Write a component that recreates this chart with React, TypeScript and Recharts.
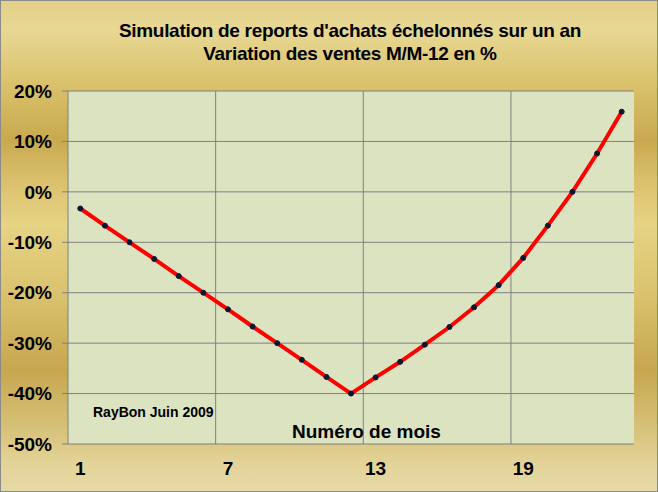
import { CartesianGrid, Line, LineChart, XAxis, YAxis } from "recharts";

const months = [1, 2, 3, 4, 5, 6, 7, 8, 9, 10, 11, 12, 13, 14, 15, 16, 17, 18, 19, 20, 21, 22, 23];
const variation = [
  -3.3, -6.7, -10, -13.3, -16.7, -20, -23.3, -26.7, -30, -33.3, -36.7, -40,
  -36.8, -33.7, -30.3, -26.8, -22.9, -18.5, -13.1, -6.7, 0, 7.6, 15.9,
];
const monthTicks = [1, 7, 13, 19];
const monthBounds = [0.5, 6.5, 12.5, 18.5];
const pctTicks = [-50, -40, -30, -20, -10, 0, 10, 20];

const data = months.map((m, i) => ({ month: m, value: variation[i] }));

const font = "'Liberation Sans', Arial, sans-serif";
const grey = "#808080";

export default function App() {
  return (
    <div
      style={{
        position: "relative",
        width: 658,
        height: 492,
        fontFamily: font,
        color: "#000",
        background:
          "linear-gradient(to bottom, #e2cf8a 0px, #e8d893 30px, #d8bf68 90px, #c8a94f 140px, #dcc270 185px, #e6d384 225px, #dbc36f 290px, #c6a74f 370px, #d7c27a 430px, #e4d49a 465px, #e6d9a6 492px)",
        boxShadow: "inset 0 0 0 1px #8a8a8a",
      }}
    >
      <style>{`body{margin:0}`}</style>
      <div
        style={{
          position: "absolute",
          top: 19,
          left: 42,
          right: 0,
          textAlign: "center",
          fontWeight: "bold",
          fontSize: 19,
          letterSpacing: "-0.3px",
          lineHeight: "23px",
        }}
      >
        Simulation de reports d'achats échelonnés sur un an
        <br />
        Variation des ventes M/M-12 en %
      </div>
      <div style={{ position: "absolute", top: 0, left: 0 }}>
        <LineChart width={658} height={492} data={data} margin={{ top: 91, right: 24, bottom: 0, left: 0 }}>
          <CartesianGrid fill="#dbe3c1" stroke={grey} verticalValues={[6.5, 12.5, 18.5]} />
          <XAxis
            type="number"
            dataKey="month"
            domain={[0.5, 23.5]}
            ticks={monthBounds}
            height={0}
            tickSize={6}
            tickFormatter={() => ""}
            axisLine={{ stroke: grey }}
            tickLine={{ stroke: grey }}
          />
          <XAxis
            xAxisId="lab"
            type="number"
            dataKey="month"
            domain={[0.5, 23.5]}
            ticks={monthTicks}
            height={48}
            axisLine={false}
            tickLine={false}
            tickSize={0}
            tickMargin={18}
            tick={{ fill: "#000", fontSize: 19, fontWeight: "bold" }}
          />
          <YAxis
            type="number"
            domain={[-50, 20]}
            ticks={pctTicks}
            width={68}
            tickSize={6}
            tickMargin={10}
            tickFormatter={(v: number) => `${v}%`}
            axisLine={{ stroke: grey }}
            tickLine={{ stroke: grey }}
            tick={{ fill: "#000", fontSize: 19, fontWeight: "bold" }}
          />
          <Line
            type="linear"
            dataKey="value"
            stroke="#ff0000"
            strokeWidth={4}
            dot={{ r: 2.5, fill: "#0b1633", stroke: "#0b1633", strokeWidth: 1 }}
            isAnimationActive={false}
          />
        </LineChart>
      </div>
      <div
        style={{
          position: "absolute",
          top: 404,
          left: 93,
          fontWeight: "bold",
          fontSize: 14,
          lineHeight: "17px",
        }}
      >
        RayBon Juin 2009
      </div>
      <div
        style={{
          position: "absolute",
          top: 420,
          left: 292,
          fontWeight: "bold",
          fontSize: 19,
          lineHeight: "23px",
        }}
      >
        Numéro de mois
      </div>
    </div>
  );
}
